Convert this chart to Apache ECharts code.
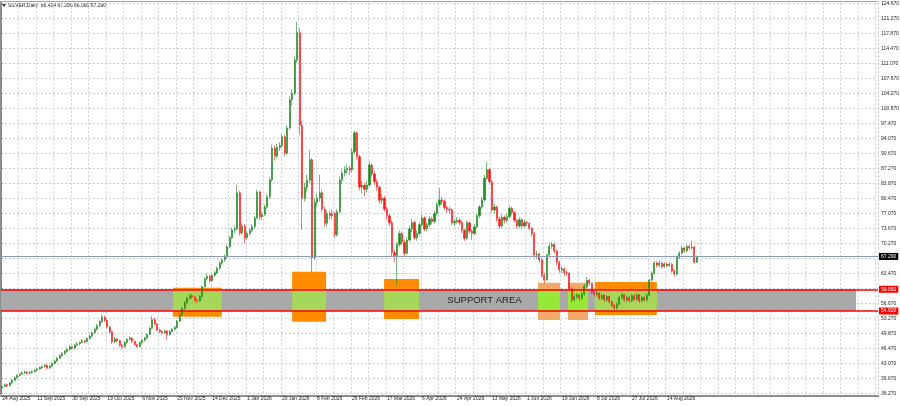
<!DOCTYPE html>
<html><head><meta charset="utf-8">
<script src="https://cdn.jsdelivr.net/npm/echarts@6/dist/echarts.min.js"></script>
<style>html,body{margin:0;padding:0;background:#fff}#c{width:900px;height:406px}</style>
</head><body><div id="c"></div>
<script>
// ---- data ----
const dateLabels = ['24 Aug 2025','11 Sep 2025','30 Sep 2025','19 Oct 2025','6 Nov 2025','25 Nov 2025','14 Dec 2025','1 Jan 2026','20 Jan 2026','8 Feb 2026','26 Feb 2026','17 Mar 2026','6 Apr 2026','24 Apr 2026','13 May 2026','1 Jun 2026','19 Jun 2026','8 Jul 2026','27 Jul 2026','14 Aug 2026'];
const barsPerLabel = 14;
const shiftBars = 72; // empty space right of the last candle
// [open, close, low, high]
const ohlc = [
[37.5,37.8,37.2,38.1],[37.8,38.2,37.6,38.5],[38.2,38.0,37.7,38.5],[38.0,38.6,37.9,38.9],[38.6,39.2,38.4,39.5],
[39.2,39.8,39.0,40.1],[39.8,40.3,39.6,40.6],[40.3,40.6,40.0,40.9],[40.6,40.9,40.4,41.2],[40.9,41.1,40.6,41.4],
[41.1,40.8,40.5,41.3],[40.8,41.0,40.6,41.3],[41.0,41.2,40.8,41.5],[41.2,41.5,41.0,41.8],[41.5,41.8,41.3,42.1],
[41.8,42.1,41.6,42.4],[42.1,42.3,41.8,42.6],[42.3,42.6,42.1,42.9],[42.6,42.0,41.7,42.8],[42.0,42.4,41.8,42.7],
[42.4,43.0,42.2,43.3],[43.0,43.6,42.8,43.9],[43.6,44.2,43.4,44.5],[44.2,44.8,44.0,45.1],[44.8,45.3,44.5,45.6],
[45.3,45.8,45.0,46.1],[45.8,46.2,45.5,46.6],[46.2,46.8,46.0,47.1],[46.8,46.5,46.2,47.0],[46.5,47.2,46.3,47.5],
[47.2,47.5,46.9,47.9],[47.5,47.8,47.2,48.1],[47.8,48.2,47.6,48.6],[48.2,48.0,47.6,48.5],[48.0,48.7,47.8,49.0],
[48.7,49.2,48.5,49.6],[49.2,50.0,49.0,50.3],[50.0,50.8,49.8,51.2],[50.8,51.6,50.5,52.0],[51.6,52.5,51.3,52.9],
[52.5,53.5,52.2,54.2],[53.5,52.8,52.4,53.9],[52.8,51.3,51.0,53.0],[51.3,50.2,49.8,51.6],[50.2,47.9,47.5,50.4],
[47.9,48.6,47.6,49.0],[48.6,48.2,47.9,48.9],[48.2,47.2,46.8,48.4],[47.2,46.8,46.3,47.5],[46.8,47.8,46.6,48.1],
[47.8,48.5,47.5,48.8],[48.5,48.8,48.2,49.2],[48.8,48.0,47.7,49.0],[48.0,47.3,47.0,48.2],[47.3,46.9,46.6,47.5],
[46.9,47.8,46.7,48.0],[47.8,48.3,47.5,48.6],[48.3,48.8,48.0,49.1],[48.8,49.6,48.6,49.9],[49.6,51.0,49.4,51.4],
[51.0,53.0,50.8,53.8],[53.0,52.0,51.7,53.4],[52.0,50.6,50.3,52.2],[50.6,50.3,49.9,50.9],[50.3,50.0,49.6,50.6],
[50.0,50.4,49.7,50.8],[50.4,49.6,48.4,50.6],[49.6,50.3,49.3,50.6],[50.3,50.8,50.0,51.1],[50.8,51.2,50.5,51.6],
[51.2,52.6,51.0,52.9],[52.6,54.0,52.4,54.4],[54.0,55.5,53.8,55.9],[55.5,56.8,55.2,57.2],[56.8,57.8,56.5,58.2],
[57.8,58.4,57.5,58.9],[58.4,58.1,57.7,58.8],[58.1,57.4,57.0,58.3],[57.4,57.2,56.8,57.7],[57.2,58.2,57.0,58.5],
[58.2,60.4,58.0,60.8],[60.4,62.2,60.2,62.6],[62.2,62.8,61.9,63.4],[62.8,61.8,61.3,63.1],[61.8,63.0,61.5,63.3],
[63.0,63.6,62.7,64.0],[63.6,64.6,63.3,65.0],[64.6,65.8,64.3,66.2],[65.8,66.5,65.4,66.9],[66.5,67.2,66.1,67.8],
[67.2,69.5,66.9,70.0],[69.5,71.5,69.2,72.0],[71.5,73.3,71.2,73.8],[73.3,73.5,72.6,74.2],[73.5,81.7,73.2,83.5],
[81.7,72.6,72.0,82.2],[72.6,74.2,72.2,74.8],[74.2,71.5,70.3,74.6],[71.5,72.5,71.0,73.0],[72.5,73.2,72.0,73.7],
[73.2,74.0,72.8,74.6],[74.0,76.0,73.7,76.5],[76.0,81.9,75.7,82.4],[81.9,76.3,75.5,82.2],[76.3,76.8,75.6,77.4],
[76.8,78.5,76.4,79.0],[78.5,80.8,78.1,81.4],[80.8,84.6,80.4,85.2],[84.6,91.8,84.2,92.6],[91.8,90.0,89.0,92.4],
[90.0,92.0,89.6,92.8],[92.0,92.4,91.2,93.2],[92.4,94.4,92.0,95.0],[94.4,90.7,90.0,94.8],[90.7,96.4,90.4,97.0],
[96.4,102.8,96.0,103.6],[102.8,104.3,101.5,105.2],[104.3,111.8,103.8,112.6],[111.8,118.0,111.2,120.5],[118.0,97.0,95.0,119.0],
[97.0,80.5,73.3,98.0],[80.5,83.0,79.8,84.0],[83.0,84.6,82.0,85.8],[84.6,89.2,84.0,91.4],[89.2,67.0,63.7,89.6],
[67.0,79.6,66.5,80.4],[79.6,80.5,78.6,81.4],[80.5,81.7,79.8,85.8],[81.7,78.0,77.4,82.4],[78.0,74.8,74.0,78.6],
[74.8,77.0,74.2,77.8],[77.0,76.5,75.6,77.6],[76.5,77.0,75.8,78.0],[77.0,72.2,71.5,77.4],[72.2,77.4,71.8,78.0],
[77.4,84.6,77.0,85.4],[84.6,86.2,83.8,87.0],[86.2,86.9,85.4,87.8],[86.9,87.3,86.0,88.2],[87.3,86.9,85.8,87.8],
[86.9,91.0,86.4,91.8],[91.0,95.3,90.5,95.8],[95.3,89.9,89.2,95.6],[89.9,83.0,82.2,90.4],[83.0,83.4,81.6,84.4],
[83.4,82.5,81.0,84.0],[82.5,83.5,81.8,84.4],[83.5,88.0,83.0,88.8],[88.0,86.0,85.4,88.4],[86.0,84.2,83.5,86.6],
[84.2,83.0,82.2,84.8],[83.0,80.0,79.4,83.4],[80.0,80.5,79.2,81.4],[80.5,78.0,77.4,81.0],[78.0,76.5,75.8,78.6],
[76.5,74.9,74.2,77.0],[74.9,68.1,67.4,75.4],[68.1,67.5,66.0,68.8],[67.5,70.0,60.8,70.6],[70.0,72.5,69.4,73.2],
[72.5,70.5,70.0,73.0],[70.5,68.0,67.4,71.0],[68.0,71.0,67.6,71.6],[71.0,73.5,70.6,74.2],[73.5,75.0,72.8,75.8],
[75.0,71.5,71.0,75.4],[71.5,72.5,70.8,73.2],[72.5,74.5,72.0,75.0],[74.5,76.0,74.0,76.8],[76.0,73.5,73.0,76.4],
[73.5,74.5,73.0,75.0],[74.5,75.8,74.0,76.4],[75.8,75.2,74.6,76.2],[75.2,77.0,74.8,77.6],[77.0,79.0,76.6,79.6],
[79.0,80.1,78.4,82.8],[80.1,79.8,79.0,80.8],[79.8,78.4,77.8,80.2],[78.4,78.0,77.2,78.8],[78.0,77.8,77.0,78.6],
[77.8,74.9,74.4,78.2],[74.9,75.2,74.2,75.8],[75.2,75.5,74.6,76.2],[75.5,75.0,74.4,76.0],[75.0,73.2,72.6,75.4],
[73.2,71.4,70.8,73.6],[71.4,74.9,71.0,75.4],[74.9,73.0,72.4,75.2],[73.0,72.5,71.0,73.4],[72.5,74.0,72.0,74.6],
[74.0,76.5,73.6,77.0],[76.5,78.5,76.0,79.0],[78.5,80.1,78.0,80.8],[80.1,85.0,79.8,85.8],[85.0,87.0,84.6,88.7],
[87.0,84.2,83.6,87.4],[84.2,77.8,77.2,84.6],[77.8,78.5,77.0,79.2],[78.5,75.8,75.2,78.8],[75.8,74.2,73.6,76.2],
[74.2,76.2,73.8,76.8],[76.2,75.5,74.8,76.6],[75.5,76.3,75.0,77.0],[76.3,78.2,76.0,78.8],[78.2,77.2,76.6,78.6],
[77.2,75.5,75.0,77.6],[75.5,74.2,73.6,75.8],[74.2,75.6,73.8,76.2],[75.6,74.2,73.6,76.0],[74.2,75.0,73.8,75.6],
[75.0,74.8,74.2,75.4],[74.8,73.7,73.2,75.2],[73.7,72.4,71.8,74.0],[72.4,67.6,67.0,72.8],[67.6,67.8,66.8,68.6],
[67.8,66.5,65.8,68.2],[66.5,63.0,62.4,66.8],[63.0,62.0,61.2,63.6],[62.0,67.6,61.8,68.0],[67.6,69.6,67.2,70.3],
[69.6,70.0,69.0,70.6],[70.0,68.5,68.0,70.4],[68.5,66.0,65.4,68.8],[66.0,64.2,63.6,66.4],[64.2,64.5,63.6,65.2],
[64.5,63.6,63.0,64.8],[63.6,63.5,62.8,64.2],[63.5,60.0,59.4,63.8],[60.0,57.4,56.8,60.4],[57.4,58.2,57.0,58.8],
[58.2,58.5,57.6,59.0],[58.5,57.8,57.2,58.8],[57.8,58.8,57.4,59.2],[58.8,60.5,58.4,61.0],[60.5,61.9,60.2,62.6],
[61.9,61.2,60.6,62.2],[61.2,59.2,58.8,61.4],[59.2,58.7,58.2,59.6],[58.7,59.0,58.2,59.6],[59.0,57.8,57.4,59.2],
[57.8,58.5,57.4,58.9],[58.5,57.4,57.0,58.8],[57.4,58.2,57.0,58.6],[58.2,57.0,56.6,58.4],[57.0,56.2,55.8,57.3],
[56.2,55.6,55.2,56.5],[55.6,56.5,55.3,56.9],[56.5,58.0,56.2,58.4],[58.0,58.6,57.6,59.1],[58.6,57.4,57.0,58.8],
[57.4,58.0,57.0,58.5],[58.0,57.2,56.8,58.3],[57.2,58.4,56.9,58.8],[58.4,57.6,57.2,58.7],[57.6,58.6,57.3,59.0],
[58.6,57.2,56.8,58.8],[57.2,58.0,56.9,58.4],[58.0,57.4,57.0,58.3],[57.4,58.5,57.1,59.0],[58.5,61.9,58.2,62.3],
[61.9,63.5,61.6,63.9],[63.5,65.8,63.2,66.3],[65.8,65.3,64.8,66.2],[65.3,65.8,64.9,66.4],[65.8,65.0,64.6,66.1],
[65.0,65.6,64.7,66.0],[65.6,65.2,64.8,65.9],[65.2,65.5,64.9,66.0],[65.5,64.0,63.6,65.8],[64.0,63.3,62.8,64.3],
[63.3,67.1,63.0,67.5],[67.1,68.0,66.7,68.5],[68.0,69.2,67.6,69.7],[69.2,68.6,68.2,69.5],[68.6,69.6,68.2,70.0],
[69.6,69.2,68.8,70.0],[69.2,69.4,68.8,70.8],[69.4,66.0,65.6,69.7],[66.0,67.29,65.8,67.5]
];
const yMin = 36.27, yStep = 3.4, yMax = 124.67;
const supportLevels = [59.85, 54.92];
const lastPrice = 67.29;
const titleText = 'SILVER,Daily  66.414 67.296 66.060 67.290';
// support zone: [barFrom, barTo, low, high]
const supportZone = [0, 342.2, 54.92, 59.85];
// highlight boxes: [barFrom, barTo, low, high, style(0 strong / 1 light)]
const boxes = [
  [68.8, 88.4, 53.6, 60.2, 0],
  [116.5, 130.1, 52.5, 63.8, 0],
  [153.3, 167.3, 53.1, 62.2, 0],
  [214.9, 223.7, 52.9, 61.3, 1],
  [226.9, 234.9, 52.9, 61.3, 1],
  [237.7, 262.5, 54.0, 61.5, 0]
];
const labelBar = 193; // "SUPPORT AREA" caption position
const labelPrice = 57.4;

// ---- build ----
const nBars = ohlc.length + shiftBars;
const categories = [];
for (let i = 0; i < nBars; i++) categories.push(String(i));

const fills = ['#a9a9a9', '#ff8c00', '#a6d65a', '#f2a868', '#98e83a'];
const rects = [];
boxes.forEach(b => rects.push([b[0], b[1], b[2], b[3], b[4] === 0 ? 1 : 3]));
rects.push([supportZone[0], supportZone[1], supportZone[2], supportZone[3], 0]);
boxes.forEach(b => rects.push([b[0], b[1], Math.max(b[2], supportZone[2]), Math.min(b[3], supportZone[3]), b[4] === 0 ? 2 : 4]));

const FONT = 'Liberation Sans';
const chart = echarts.init(document.getElementById('c'), null, {renderer: 'canvas'});
const redLabel = {show: true, position: 'end', distance: 1, formatter: p => p.value.toFixed(3),
  color: '#fff', backgroundColor: '#ff0000', fontSize: 5, fontFamily: FONT, padding: [1, 2, 1, 2]};

chart.setOption({
  animation: false,
  backgroundColor: '#ffffff',
  grid: {left: 1, right: 22, top: 3.3, height: 390, containLabel: false, outerBoundsMode: 'none'},
  xAxis: [{
    type: 'category', data: categories, boundaryGap: true, offset: 2,
    axisLine: {show: true, lineStyle: {color: '#8c8c8c', width: 2}},
    axisTick: {show: true, interval: i => i % barsPerLabel === 0, length: 2, lineStyle: {color: '#8c8c8c'}},
    axisLabel: {show: true, interval: i => i % barsPerLabel === 0 && i / barsPerLabel < dateLabels.length,
      formatter: (v, i) => dateLabels[i / barsPerLabel] || '', align: 'left', margin: 1,
      fontSize: 5, color: '#222', fontFamily: FONT},
    splitLine: {show: true, interval: i => i % 7 === 0, lineStyle: {color: '#c9cfd8', type: [2, 2], width: 1}}
  }, {
    type: 'value', min: 0, max: nBars, show: false
  }],
  yAxis: [{
    type: 'value', position: 'right', min: yMin, max: yMax + 0.0001, interval: yStep, scale: true,
    axisLine: {show: true, lineStyle: {color: '#8c8c8c', width: 2}},
    axisTick: {show: true, length: 2, lineStyle: {color: '#8c8c8c'}},
    axisLabel: {formatter: v => v.toFixed(3), fontSize: 5, color: '#222', margin: 3, fontFamily: FONT},
    splitLine: {show: true, lineStyle: {color: '#c9cfd8', type: [2, 2], width: 1}}
  }],
  graphic: [
    {type: 'line', shape: {x1: 0, y1: 1.5, x2: 878, y2: 1.5}, style: {stroke: '#a0a0a0', lineWidth: 1}},
    {type: 'line', shape: {x1: 0.5, y1: 1.5, x2: 0.5, y2: 395}, style: {stroke: '#8c8c8c', lineWidth: 1}},
    {type: 'polygon', shape: {points: [[2, 4], [6, 4], [4, 7]]}, style: {fill: '#333'}},
    {type: 'text', left: 8, top: 3, style: {text: titleText, fontSize: 5, fill: '#222', fontFamily: FONT}}
  ],
  series: [{
    type: 'custom', xAxisIndex: 1, yAxisIndex: 0, z: 1, clip: true, silent: true,
    data: rects,
    encode: {x: [0, 1], y: [2, 3]},
    renderItem: (params, api) => {
      const p1 = api.coord([api.value(0), api.value(3)]);
      const p2 = api.coord([api.value(1), api.value(2)]);
      return {type: 'rect', shape: {x: p1[0], y: p1[1], width: p2[0] - p1[0], height: p2[1] - p1[1]},
        style: {fill: fills[api.value(4)]}};
    }
  }, {
    type: 'candlestick', xAxisIndex: 0, yAxisIndex: 0, z: 3, barWidth: 1.6,
    data: ohlc,
    itemStyle: {color: '#1f8a1f', color0: '#ff1a1a', borderColor: '#1f8a1f', borderColor0: '#ff1a1a', borderWidth: 0.6},
    markLine: {
      symbol: ['none', 'none'], silent: true, animation: false,
      data: [
        {yAxis: supportLevels[0], lineStyle: {color: '#ff0000', width: 1.5, type: 'solid'}, label: redLabel},
        {yAxis: supportLevels[1], lineStyle: {color: '#ff0000', width: 1.5, type: 'solid'}, label: redLabel},
        {yAxis: lastPrice, lineStyle: {color: '#8d9bb0', width: 1, type: 'solid'},
          label: Object.assign({}, redLabel, {backgroundColor: '#000'})}
      ]
    },
    markPoint: {
      silent: true, animation: false,
      data: [{coord: [labelBar, labelPrice], symbol: 'rect', symbolSize: 1, itemStyle: {color: 'rgba(0,0,0,0)'},
        label: {show: true, position: 'inside', formatter: 'SUPPORT AREA', fontSize: 9.5, color: '#222', fontFamily: FONT}}]
    }
  }]
});
</script>
</body></html>
